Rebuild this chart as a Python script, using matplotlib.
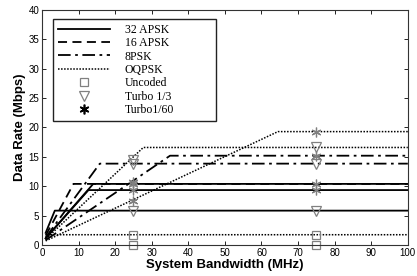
import numpy as np
import matplotlib
matplotlib.use('Agg')
import matplotlib.pyplot as plt
from matplotlib.lines import Line2D

# saturating rate curves: style, knee bandwidth (MHz), saturated rate (Mbps)
start_x = 1.0
solid_knee = [3.5, 12.7, 14.0]
solid_sat = [5.85, 9.35, 10.4]
dashed_knee = [8.6]
dashed_sat = [10.4]
dashdot_knee = [15.8, 35.0]
dashdot_sat = [13.85, 15.2]
dotted_knee = [2.2, 27.7, 64.5]
dotted_sat = [1.75, 16.6, 19.3]

# markers at 25 and 75 MHz
uncoded_x = [25, 25, 75, 75]
uncoded_y = [1.75, 0.0, 1.75, 0.0]
turbo3_x = [25, 25, 25, 75, 75, 75]
turbo3_y = [14.5, 13.85, 5.85, 16.6, 13.85, 5.85]
turbo60_x = [25, 25, 25, 25, 75, 75, 75, 75]
turbo60_y = [10.8, 10.4, 9.4, 7.5, 19.3, 15.2, 10.4, 9.35]

legend_labels = ['32 APSK', '16 APSK', '8PSK', 'OQPSK', 'Uncoded', 'Turbo 1/3', 'Turbo1/60']

plt.rcParams['font.family'] = ['Liberation Sans', 'DejaVu Sans']

fig = plt.figure(figsize=(4.17, 2.76), dpi=100)
ax = fig.add_axes([0.1007, 0.1123, 0.8773, 0.8515])

styles = {
    'solid': '-',
    'dashed': (0, (5, 3)),
    'dashdot': (0, (7, 2.5, 1.5, 2.5)),
    'dotted': (0, (1, 1)),
}

def ramp(knee, sat, ls, lw):
    x0 = start_x
    y0 = min(sat, sat / knee * x0 + 0.4)
    ax.plot([x0, knee, 100], [y0, sat, sat], color='black', linestyle=ls, lw=lw)

for k, s in zip(solid_knee, solid_sat):
    ramp(k, s, styles['solid'], 1.3)
for k, s in zip(dashed_knee, dashed_sat):
    ramp(k, s, styles['dashed'], 1.3)
for k, s in zip(dashdot_knee, dashdot_sat):
    ramp(k, s, styles['dashdot'], 1.3)
for k, s in zip(dotted_knee, dotted_sat):
    ramp(k, s, styles['dotted'], 1.1)

gray = '#808080'
ax.plot(uncoded_x, uncoded_y, linestyle='none', marker='s', ms=5.5, mfc='none', mec=gray, mew=0.9, clip_on=False)
ax.plot(turbo3_x, turbo3_y, linestyle='none', marker='v', ms=7, mfc='none', mec=gray, mew=0.9)
ax.plot(turbo60_x, turbo60_y, linestyle='none', marker=(6, 2, 0), ms=7, mec=gray, mew=0.9)

ax.set_xlim(0, 100)
ax.set_ylim(0, 40)
ax.set_xticks(np.arange(0, 101, 10))
ax.set_yticks(np.arange(0, 41, 5))
ax.tick_params(direction='in', top=True, right=True, labelsize=7, length=3, width=0.6, pad=2)
for sp in ax.spines.values():
    sp.set_linewidth(0.8)
    sp.set_color('#333333')

ax.set_xlabel('System Bandwidth (MHz)', fontsize=9.5, fontweight='bold', labelpad=1)
ax.set_ylabel('Data Rate (Mbps)', fontsize=9.5, fontweight='bold', labelpad=2)

handles = [
    Line2D([], [], color='black', linestyle=styles['solid'], lw=1.3),
    Line2D([], [], color='black', linestyle=styles['dashed'], lw=1.3),
    Line2D([], [], color='black', linestyle=styles['dashdot'], lw=1.3),
    Line2D([], [], color='black', linestyle=styles['dotted'], lw=1.1),
    Line2D([], [], linestyle='none', marker='s', ms=6, mfc='none', mec=gray, mew=0.9),
    Line2D([], [], linestyle='none', marker='v', ms=7, mfc='none', mec=gray, mew=0.9),
    Line2D([], [], linestyle='none', marker=(6, 2, 0), ms=7, mec='black', mew=1.2),
]
leg = ax.legend(handles, legend_labels, loc='upper left', mode='expand',
                bbox_to_anchor=(0.03, 0.5, 0.445, 0.4617),
                prop={'family': 'Liberation Serif', 'size': 8.5}, handlelength=4.4,
                labelspacing=0.12, handletextpad=1.3, borderpad=0.4, borderaxespad=0,
                fancybox=False, framealpha=1, edgecolor='#222222')
leg.get_frame().set_linewidth(1.0)

fig.savefig('out.png', dpi=100)
